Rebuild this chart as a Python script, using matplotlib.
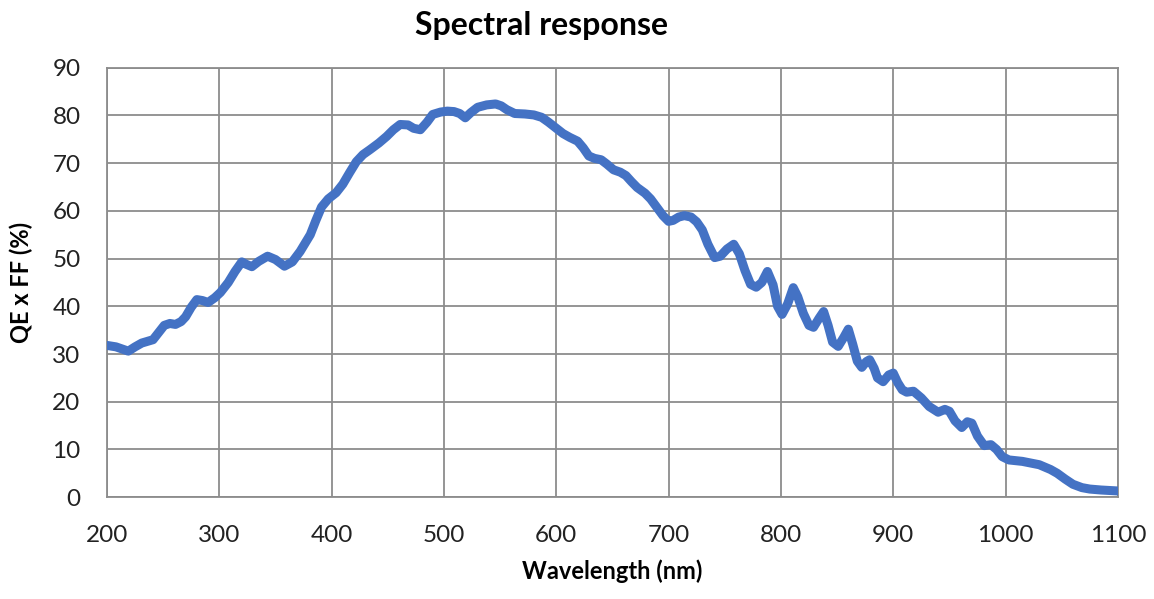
import matplotlib.pyplot as plt
import numpy as np

plt.rcParams['font.family'] = ['Lato', 'DejaVu Sans']

# wavelength (nm) and QE x FF (%)
WAVE = [200, 208, 214, 219, 225, 231, 241, 246, 251, 256, 261, 266, 270, 275, 280,
        285, 290, 296, 301, 308, 314, 320, 324, 329, 335, 343, 350, 358, 365, 372,
        381, 386, 391, 397, 404, 410, 416, 422, 428, 434, 442, 449, 455, 461, 468,
        473, 479, 485, 490, 497, 503, 509, 514, 519, 524, 530, 538, 546, 551, 556,
        563, 572, 580, 587, 593, 600, 606, 612, 619, 624, 629, 634, 640, 645, 651,
        657, 662, 667, 672, 679, 684, 690, 695, 700, 704, 709, 714, 720, 725, 730,
        735, 741, 746, 752, 758, 763, 768, 773, 778, 783, 788, 793, 797, 801, 806,
        811, 815, 820, 825, 829, 834, 838, 842, 846, 851, 856, 860, 864, 868, 872,
        876, 879, 883, 886, 891, 896, 900, 904, 908, 912, 918, 925, 932, 940, 946,
        950, 955, 961, 966, 970, 975, 981, 987, 992, 997, 1003, 1015, 1030, 1040,
        1046, 1053, 1060, 1068, 1075, 1085, 1100]
QE = [31.8, 31.5, 31.0, 30.6, 31.5, 32.3, 33.0, 34.5, 36.0, 36.4, 36.2, 36.8, 37.8, 39.8, 41.4,
      41.2, 40.8, 41.8, 42.9, 45.0, 47.3, 49.3, 48.8, 48.3, 49.4, 50.5, 49.8, 48.4, 49.3, 51.5,
      55.0, 58.0, 60.8, 62.5, 63.8, 65.6, 68.0, 70.3, 71.8, 72.8, 74.2, 75.6, 77.0, 78.1, 78.0,
      77.3, 77.0, 78.6, 80.2, 80.7, 80.9, 80.8, 80.4, 79.5, 80.6, 81.7, 82.2, 82.4, 82.0, 81.2,
      80.4, 80.3, 80.1, 79.6, 78.6, 77.3, 76.2, 75.4, 74.6, 73.2, 71.5, 71.0, 70.7, 69.8, 68.6,
      68.1, 67.4, 66.1, 64.9, 63.7, 62.5, 60.6, 59.0, 57.8, 58.0, 58.7, 59.0, 58.7, 57.7, 56.0,
      53.0, 50.2, 50.5, 52.0, 53.0, 51.0, 47.5, 44.6, 44.0, 45.0, 47.3, 44.5, 40.0, 38.3, 40.5,
      43.9, 42.0, 38.5, 36.0, 35.6, 37.5, 38.9, 36.0, 32.5, 31.6, 33.5, 35.2, 32.0, 28.5, 27.2,
      28.4, 28.8, 27.0, 25.0, 24.2, 25.6, 26.0, 24.0, 22.5, 22.0, 22.2, 20.8, 19.0, 17.8, 18.4,
      18.0, 16.0, 14.6, 15.8, 15.5, 12.8, 10.8, 11.0, 10.0, 8.5, 7.8, 7.5, 6.8, 5.8,
      5.0, 3.8, 2.7, 2.0, 1.7, 1.5, 1.3]

XTICKS = np.arange(200, 1101, 100)
YTICKS = np.arange(0, 91, 10)

fig = plt.figure(figsize=(11.54, 5.99), dpi=100)
ax = fig.add_axes([0.0927, 0.170, 0.876, 0.717])

ax.plot(WAVE, QE, color='#4472C4', linewidth=6.5, solid_joinstyle='round',
        solid_capstyle='round', zorder=3)

ax.set_xlim(200, 1100)
ax.set_ylim(0, 90)
ax.set_xticks(XTICKS)
ax.set_yticks(YTICKS)
ax.grid(True, color='#8c8c8c', linewidth=1.3)
for s in ax.spines.values():
	s.set_color('#8c8c8c')
	s.set_linewidth(1.3)
ax.tick_params(length=0, labelsize=17.5, colors='#222222')
ax.tick_params(axis='x', pad=20)
ax.tick_params(axis='y', pad=19)

fig.text(0.469, 0.958, "Spectral response", fontsize=23, fontweight='bold',
         ha='center', va='center')
ax.set_xlabel("Wavelength (nm)", fontsize=17, fontweight='bold', labelpad=10)
ax.set_ylabel("QE x FF (%)", fontsize=17, fontweight='bold', labelpad=14)

fig.savefig("out.png", dpi=100)
